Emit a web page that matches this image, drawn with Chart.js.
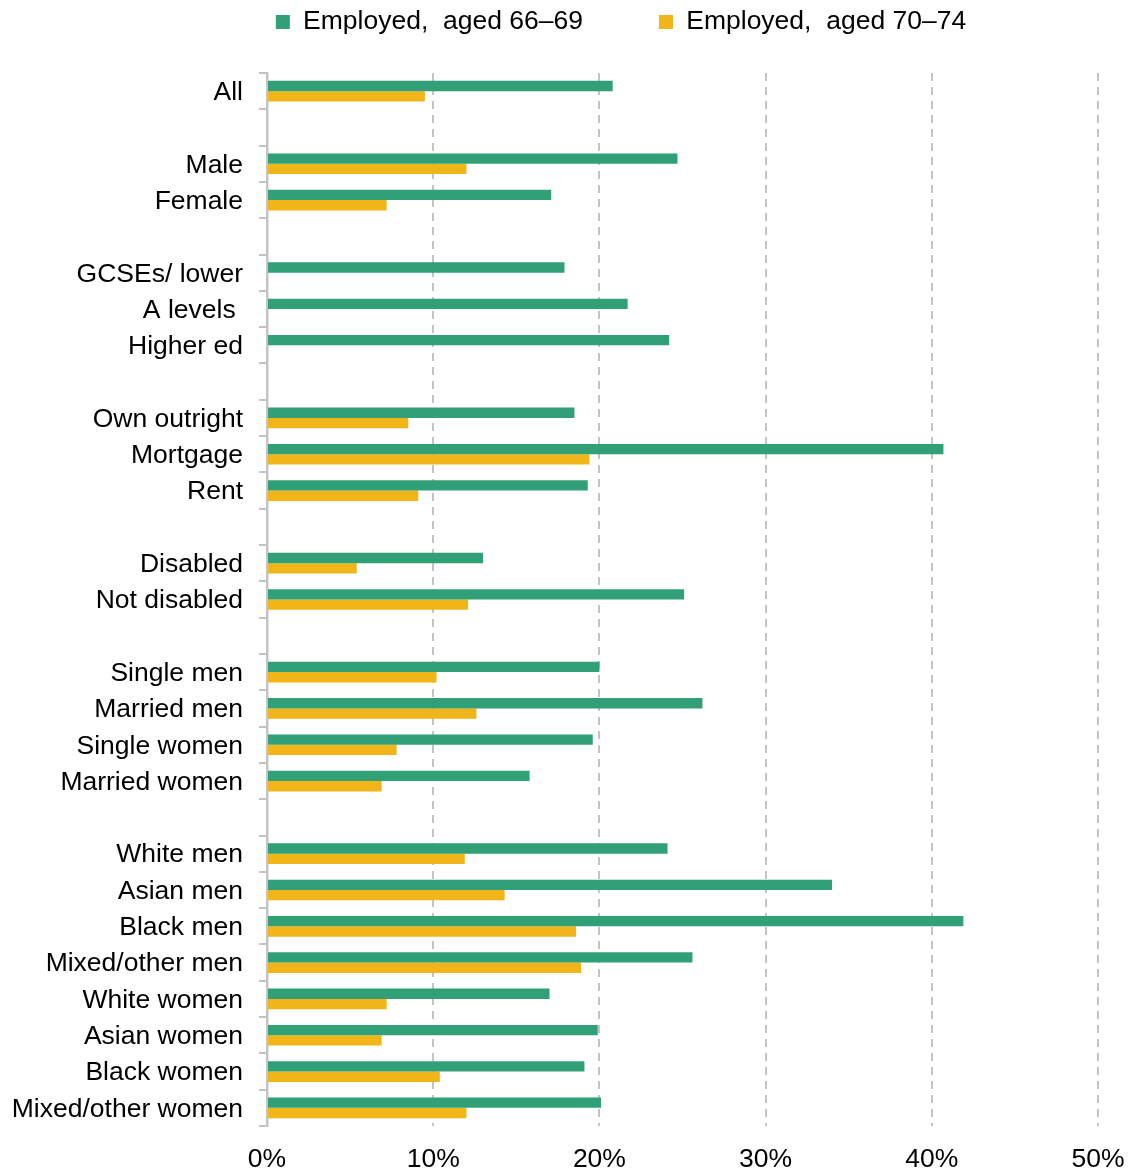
<!DOCTYPE html>
<html>
<head>
<meta charset="utf-8">
<title>Employment rates, aged 66–69 and 70–74</title>
<script src="https://cdn.jsdelivr.net/npm/chart.js@4.4.1/dist/chart.umd.min.js"></script>
<style>
  html, body { margin: 0; padding: 0; background: #fff; }
  #wrap { width: 1128px; height: 1171px; }
</style>
</head>
<body>
<div id="wrap"><canvas id="chart"></canvas></div>
<script>
// blank labels are the gaps between groups
const categories = [
  "All", "",
  "Male", "Female", "",
  "GCSEs/ lower", "A levels ", "Higher ed", "",
  "Own outright", "Mortgage", "Rent", "",
  "Disabled", "Not disabled", "",
  "Single men", "Married men", "Single women", "Married women", "",
  "White men", "Asian men", "Black men", "Mixed/other men",
  "White women", "Asian women", "Black women", "Mixed/other women"
];

const aged6669 = [
  20.8, null,
  24.7, 17.1, null,
  17.9, 21.7, 24.2, null,
  18.5, 40.7, 19.3, null,
  13.0, 25.1, null,
  20.0, 26.2, 19.6, 15.8, null,
  24.1, 34.0, 41.9, 25.6,
  17.0, 19.9, 19.1, 20.1
];

const aged7074 = [
  9.5, null,
  12.0, 7.2, null,
  null, null, null, null,
  8.5, 19.4, 9.1, null,
  5.4, 12.1, null,
  10.2, 12.6, 7.8, 6.9, null,
  11.9, 14.3, 18.6, 18.9,
  7.2, 6.9, 10.4, 12.0
];

const xTicks = [0, 10, 20, 30, 40, 50];

const GREEN = "#31a077";
const YELLOW = "#f2b519";
const GRID = "#c4c4c4";

const FONT_SIZE = 26.5;
const LEGEND_GAP = 76;   // space between the two legend items
const PLOT_TOP = 73;

Chart.defaults.font.family = "'Liberation Sans', Arial, sans-serif";
Chart.defaults.font.size = FONT_SIZE;
Chart.defaults.color = "#000";

// the legend padding doubles as item spacing, so pull the legend's
// top edge up after layout (bottom stays put so nothing gets clipped)
const legendShift = {
  id: "legendShift",
  afterLayout(chart) {
    const lg = chart.legend;
    if (!lg) return;
    lg.top -= LEGEND_GAP + FONT_SIZE / 2 - 22;
    lg.left += 72;
    lg.right += 72;
  }
};

new Chart(document.getElementById("chart"), {
  type: "bar",
  data: {
    labels: categories,
    datasets: [
      {
        label: "Employed,  aged 66–69",
        data: aged6669,
        backgroundColor: GREEN,
        borderWidth: 0
      },
      {
        label: "Employed,  aged 70–74",
        data: aged7074,
        backgroundColor: YELLOW,
        borderWidth: 0
      }
    ]
  },
  options: {
    indexAxis: "y",
    responsive: true,
    maintainAspectRatio: false,
    animation: false,
    datasets: {
      bar: { barPercentage: 1.0, categoryPercentage: 0.57 }
    },
    layout: { padding: { top: 0, right: 30, bottom: 0, left: 0 } },
    plugins: {
      legend: {
        position: "top",
        maxHeight: PLOT_TOP,
        labels: {
          boxWidth: 14,
          boxHeight: 14,
          padding: LEGEND_GAP,
          font: { size: FONT_SIZE },
          color: "#000"
        }
      },
      tooltip: { enabled: false }
    },
    scales: {
      x: {
        min: 0,
        max: 50,
        afterBuildTicks(axis) {
          axis.ticks = xTicks.map(v => ({ value: v }));
        },
        afterFit(axis) {
          axis.paddingLeft = 0;
          axis.paddingRight = 0;
          axis.height = 45;
        },
        border: { display: false, dash: [8, 6] },
        grid: {
          drawTicks: false,
          color: ctx => (ctx.tick && ctx.tick.value === 0 ? "rgba(0,0,0,0)" : GRID),
          lineWidth: 2
        },
        ticks: {
          padding: 18,
          maxRotation: 0,
          callback: v => v + "%"
        }
      },
      y: {
        afterFit(axis) {
          axis.width = 267;
          axis.paddingTop = 0;
          axis.paddingBottom = 0;
        },
        border: { display: true, color: GRID, width: 2.5 },
        grid: {
          drawOnChartArea: false,
          offset: true,
          tickLength: 8,
          color: GRID,
          lineWidth: 2
        },
        ticks: {
          padding: 16,
          labelOffset: 1.5,
          autoSkip: false
        }
      }
    }
  },
  plugins: [legendShift]
});
</script>
</body>
</html>
